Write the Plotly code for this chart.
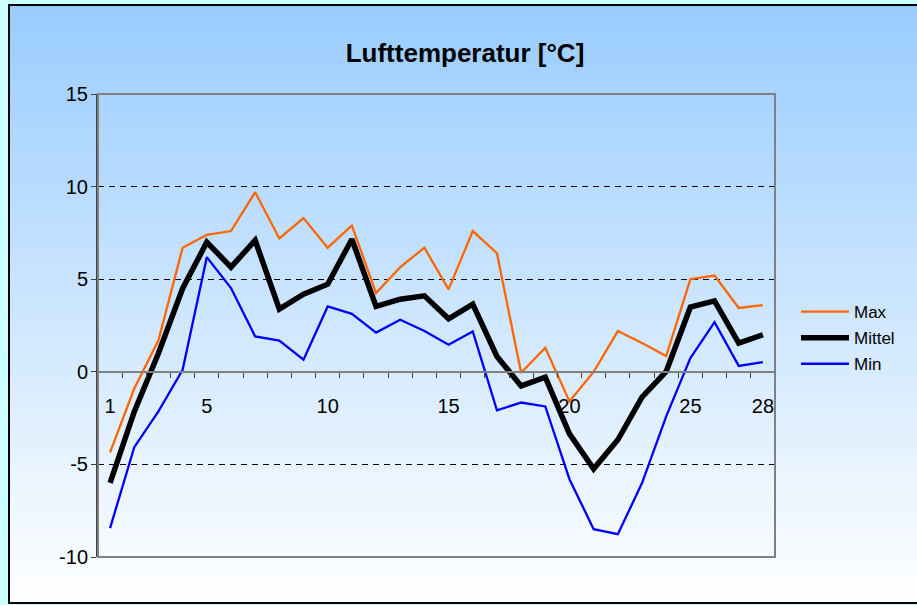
import plotly.graph_objects as go

days = list(range(1, 29))
t_max = [-4.35, -0.9, 1.7, 6.7, 7.4, 7.6, 9.7, 7.2, 8.3, 6.7, 7.9, 4.25, 5.65, 6.7, 4.45, 7.6, 6.4, -0.05, 1.3,
         -1.6, 0.0, 2.2, 1.55, 0.85, 5.0, 5.2, 3.45, 3.6]
t_mittel = [-6.0, -2.15, 1.0, 4.5, 7.0, 5.65, 7.1, 3.38, 4.19, 4.73, 7.16, 3.53, 3.92, 4.1, 2.86, 3.65, 0.83, -0.76, -0.29,
            -3.35, -5.24, -3.67, -1.37, 0.02, 3.49, 3.83, 1.55, 2.0]
t_min = [-8.44, -4.07, -2.14, 0.11, 6.19, 4.52, 1.91, 1.69, 0.65, 3.53, 3.13, 2.12, 2.81, 2.2, 1.46, 2.18, -2.08, -1.66, -1.87,
         -5.8, -8.5, -8.77, -6.01, -2.41, 0.74, 2.68, 0.32, 0.52]
x_tick_labels = [1, 5, 10, 15, 20, 25, 28]
y_ticks = [-10, -5, 0, 5, 10, 15]
y_tick_text = ["-10", "-5", "0", "5", "10", "15"]

W, H = 917, 605
PL, PR, PT, PB = 98, 775, 94, 557
pw, ph = PR - PL, PB - PT


def px2x(px):
    return (px - PL) / pw


def px2y(py):
    return (PB - py) / ph


FONT = "Liberation Sans, Arial, sans-serif"

fig = go.Figure()
fig.add_trace(go.Scatter(x=days, y=t_max, mode="lines", name="Max", legendgroup="a",
                         line=dict(color="#FF6600", width=2.3)))
fig.add_trace(go.Scatter(x=days, y=t_mittel, mode="lines", name="Mittel", legendgroup="b",
                         line=dict(color="#000000", width=5.5)))
fig.add_trace(go.Scatter(x=days, y=t_min, mode="lines", name="Min", legendgroup="c",
                         line=dict(color="#0000FF", width=2.3), xaxis="x2"))

# background gradient strips
shapes = []
top, bot = 5, 603
n = 120
c0 = (153, 204, 255)
c1 = (255, 255, 255)
for i in range(n):
    y0 = top + (bot - top) * i / n
    y1 = top + (bot - top) * (i + 1) / n + 0.6
    f = (i + 0.5) / n
    c = tuple(round(c0[k] + (c1[k] - c0[k]) * f) for k in range(3))
    shapes.append(dict(type="rect", xref="paper", yref="paper", layer="below",
                       x0=px2x(9), x1=px2x(930), y0=px2y(y1), y1=px2y(y0),
                       line=dict(width=0), fillcolor="rgb(%d,%d,%d)" % c))
# outer border
shapes.append(dict(type="rect", xref="paper", yref="paper", layer="below",
                   x0=px2x(9), x1=px2x(930), y0=px2y(603), y1=px2y(5),
                   line=dict(width=2, color="#000000"), fillcolor="rgba(0,0,0,0)"))
# plot area border
shapes.append(dict(type="rect", xref="paper", yref="paper", layer="above",
                   x0=0, x1=1, y0=0, y1=1,
                   line=dict(width=2, color="#808080"), fillcolor="rgba(0,0,0,0)"))

fig.update_layout(
    width=W, height=H,
    margin=dict(l=PL, r=W - PR, t=PT, b=H - PB, autoexpand=False),
    paper_bgcolor="#CCFFFF",
    plot_bgcolor="rgba(0,0,0,0)",
    font=dict(family=FONT, color="#000000"),
    title=dict(text="<b>Lufttemperatur [°C]</b>", x=465 / W, xref="container", xanchor="center",
               y=1 - 53 / H, yref="container", yanchor="middle",
               font=dict(size=26, family=FONT, color="#000000")),
    shapes=shapes,
    showlegend=True,
    legend=dict(xref="container", yref="container", x=796 / W, y=1 - 294 / H,
                xanchor="left", yanchor="top", bgcolor="rgba(0,0,0,0)",
                font=dict(size=17), tracegroupgap=1, itemwidth=48),
    xaxis=dict(type="linear", range=[0.5, 28.5], anchor="free", position=0.4,
               tickvals=x_tick_labels, ticktext=[str(v) for v in x_tick_labels],
               ticks="", showgrid=False, zeroline=False, showline=True,
               linecolor="#808080", linewidth=2, ticklabelstandoff=16,
               tickfont=dict(size=20)),
    xaxis2=dict(type="linear", range=[0.5, 28.5], overlaying="x", anchor="free", position=0.4,
                tickvals=[d + 0.5 for d in days], showticklabels=False,
                ticks="outside", ticklen=5, tickwidth=1, tickcolor="#404040",
                showgrid=False, zeroline=False, showline=False),
    yaxis=dict(range=[-10, 15], tickvals=y_ticks, ticktext=y_tick_text,
               ticks="outside", ticklen=5, tickcolor="#404040",
               showline=True, linecolor="#404040", linewidth=2,
               showgrid=True, gridcolor="#000000", gridwidth=1, griddash="6px,5px",
               zeroline=False, tickfont=dict(size=20), ticklabelstandoff=-1),
)

fig.write_html("out.html", config={"displayModeBar": False},
               post_script="document.body.style.margin='0';")
